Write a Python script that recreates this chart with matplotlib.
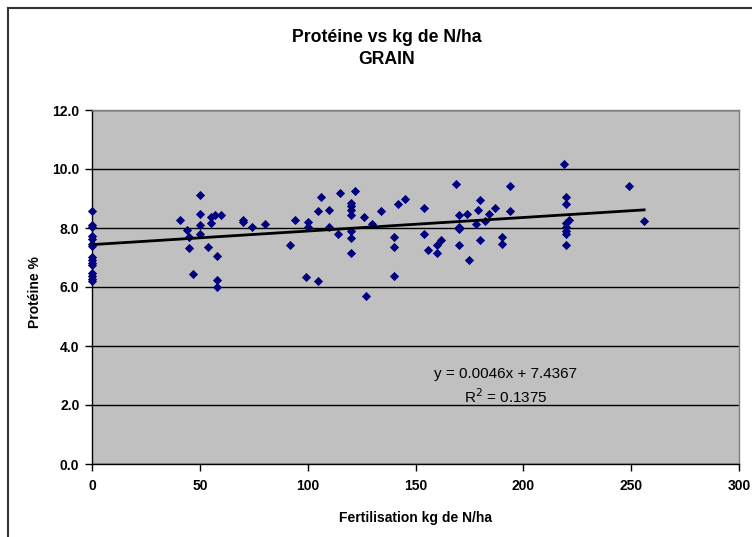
import matplotlib
matplotlib.use("Agg")
import matplotlib.pyplot as plt
import numpy as np
from matplotlib.lines import Line2D

plt.rcParams['font.family'] = ['Liberation Sans', 'DejaVu Sans']

# Data
fert = [0]*15 + [41, 44, 45, 45, 47, 50, 50, 50, 50, 54, 55, 55, 57, 58, 58, 58, 60,
        70, 70, 74, 80, 92, 94, 99, 100, 100, 105, 105, 106, 110, 110, 114, 115,
        120, 120, 120, 120, 120, 120, 120, 122, 126, 127, 130, 134, 140, 140, 140, 142, 145,
        154, 154, 156, 160, 160, 162, 169, 170, 170, 170, 170, 174, 175, 178, 179, 180, 180,
        182, 184, 187, 190, 190, 194, 194,
        219, 220, 220, 220, 220, 220, 220, 220, 221, 249, 256]
proteine = [8.56, 8.11, 8.03, 7.72, 7.63, 7.47, 7.40, 7.02, 6.93, 6.82, 6.76, 6.46, 6.37, 6.28, 6.20,
            8.28, 7.92, 7.70, 7.32, 6.45, 9.13, 8.48, 8.11, 7.81, 7.37, 8.36, 8.17, 8.45, 7.04, 6.25, 5.99, 8.45,
            8.28, 8.22, 8.03, 8.12, 7.44, 8.28, 6.33, 8.19, 8.03, 6.20, 8.56, 9.05, 8.61, 8.02, 7.80, 9.17,
            8.84, 8.73, 8.62, 8.45, 7.89, 7.67, 7.16, 9.25, 8.36, 5.68, 8.14, 8.56, 7.68, 7.37, 6.37, 8.80, 8.97,
            8.69, 7.80, 7.24, 7.44, 7.16, 7.61, 9.49, 8.45, 8.05, 7.98, 7.44, 8.48, 6.93, 8.15, 8.61, 8.96, 7.61,
            8.25, 8.49, 8.68, 7.70, 7.47, 9.41, 8.56,
            10.17, 9.05, 8.80, 8.17, 8.03, 7.89, 7.80, 7.44, 8.26, 9.41, 8.24]
slope = 0.0046
intercept = 7.4367
r2 = 0.1375

x_ticks = [0, 50, 100, 150, 200, 250, 300]
y_ticks = [0.0, 2.0, 4.0, 6.0, 8.0, 10.0, 12.0]

W, H = 752, 537
fig = plt.figure(figsize=(W/100, H/100), dpi=100)
fig.patch.set_facecolor('white')

l, r, t, b = 92, 739, 110, 464
ax = fig.add_axes([l/W, 1 - b/H, (r-l)/W, (b-t)/H])
ax.set_facecolor('#C0C0C0')
ax.set_xlim(0, 300)
ax.set_ylim(0, 12)
ax.set_xticks(x_ticks)
ax.set_yticks(y_ticks)
ax.set_xticklabels([f"{v:d}" for v in x_ticks], fontweight='bold', fontsize=10)
ax.set_yticklabels([f"{v:.1f}" for v in y_ticks], fontweight='bold', fontsize=10)
ax.tick_params(direction='out', length=5, width=1, color='black', pad=6)
ax.tick_params(axis='y', pad=4)

ax.grid(axis='y', color='black', linewidth=1)
ax.set_axisbelow(True)
for s in ['top', 'right']:
    ax.spines[s].set_color('#808080')
    ax.spines[s].set_linewidth(1)
for s in ['left', 'bottom']:
    ax.spines[s].set_color('black')
    ax.spines[s].set_linewidth(1)

ax.scatter(fert, proteine, marker='D', s=22, color='#000080', zorder=3, linewidths=0, clip_on=False)

xs = np.array([0, max(fert)])
ax.plot(xs, slope*xs + intercept, color='black', linewidth=2, zorder=4)

ax.text(191.5, 3.05, f"y = {slope}x + {intercept}", ha='center', va='center', fontsize=11)
ax.text(192, 2.28, f"R$^2$ = {r2}", ha='center', va='center', fontsize=11)

ax.set_xlabel("Fertilisation kg de N/ha", fontweight='bold', fontsize=10, labelpad=13)
ax.set_ylabel("Protéine %", fontweight='bold', fontsize=10)
ax.yaxis.set_label_coords(-0.077, 0.485)

fig.text(387/W, 1 - 37/H, "Protéine vs kg de N/ha", ha='center', va='center', fontweight='bold', fontsize=12.7)
fig.text(387/W, 1 - 60/H, "GRAIN", ha='center', va='center', fontweight='bold', fontsize=12.7)

# chart area border (top and left visible)
fig.add_artist(Line2D([8/W, 8/W], [0, 1 - 8/H], transform=fig.transFigure, color='#333333', linewidth=1.5))
fig.add_artist(Line2D([8/W, 1], [1 - 8/H, 1 - 8/H], transform=fig.transFigure, color='#333333', linewidth=1.5))

fig.savefig("out.png", dpi=100, facecolor='white')
